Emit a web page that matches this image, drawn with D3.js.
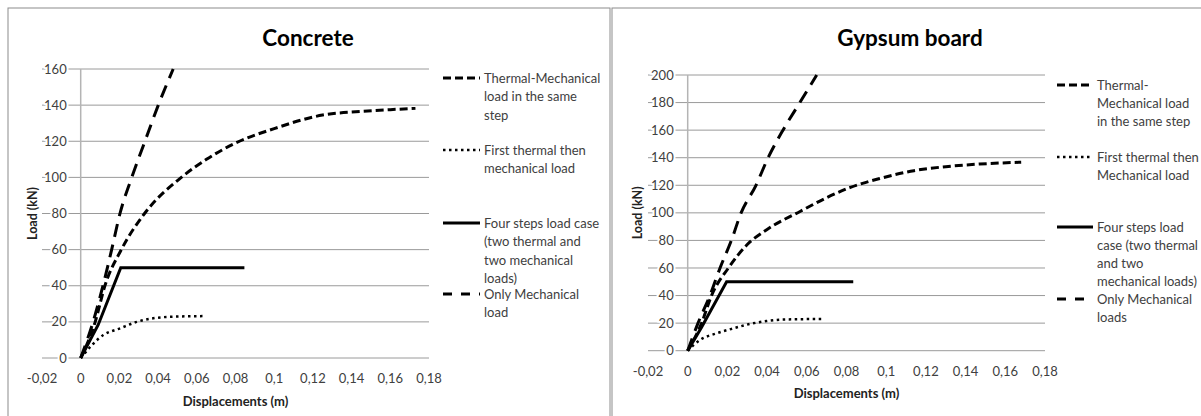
<!DOCTYPE html>
<html>
<head>
<meta charset="utf-8">
<script src="https://cdn.jsdelivr.net/npm/d3@7"></script>
<style>
  body { margin: 0; background: #fff; }
  svg { display: block; font-family: Lato, "Open Sans", sans-serif; }
</style>
</head>
<body>
<div id="chart"></div>
<script>
// tick values (labels use a decimal comma)
const xTicks = [-0.02, 0, 0.02, 0.04, 0.06, 0.08, 0.1, 0.12, 0.14, 0.16, 0.18];
const concreteYTicks = [0, 20, 40, 60, 80, 100, 120, 140, 160];
const gypsumYTicks = [0, 20, 40, 60, 80, 100, 120, 140, 160, 180, 200];

// Concrete: [displacement (m), load (kN)]
const concreteThermalMech = [[0, 0], [0.0075, 20], [0.0125, 40], [0.021, 60], [0.033, 80], [0.052, 100], [0.065, 110], [0.08, 119], [0.1, 127], [0.125, 134.5], [0.145, 136.5], [0.16, 137.5], [0.173, 138.2]];
const concreteFirstThermal = [[0, 0], [0.0117, 12.7], [0.0203, 16.4], [0.029, 20], [0.0375, 22], [0.046, 22.8], [0.0633, 23.2]];
const concreteFourSteps = [[0, 0], [0.009, 18.3], [0.0207, 50], [0.0846, 50]];
const concreteOnlyMech = [[0, 0], [0.0064, 20], [0.0115, 40], [0.016, 60], [0.0203, 80], [0.0264, 100], [0.0332, 120], [0.0401, 140], [0.0478, 160]];

// Gypsum board
const gypsumThermalMech = [[0, 0], [0.007, 20], [0.012, 40], [0.0205, 60], [0.03, 77], [0.04, 88], [0.0566, 101], [0.07, 111], [0.082, 118.5], [0.097, 125], [0.114, 130.6], [0.13, 133.5], [0.147, 135.4], [0.168, 136.7]];
const gypsumFirstThermal = [[0, 0], [0.0062, 7.8], [0.0146, 12.6], [0.023, 16.2], [0.0314, 19.4], [0.0398, 21.5], [0.048, 22.6], [0.068, 23]];
const gypsumFourSteps = [[0, 0], [0.007, 17], [0.0196, 50], [0.0834, 50]];
const gypsumOnlyMech = [[0, 0], [0.0052, 20], [0.0112, 40], [0.0163, 60], [0.022, 80], [0.0269, 100], [0.0344, 120], [0.0405, 140], [0.048, 160], [0.0565, 180], [0.065, 200]];

// legend texts, already wrapped as in the picture
const concreteLegend = [
  ["Thermal-Mechanical", "load in the same", "step"],
  ["First thermal then", "mechanical load"],
  ["Four steps  load case", "(two thermal and", "two mechanical", "loads)"],
  ["Only Mechanical", "load"]
];
const gypsumLegend = [
  ["Thermal-", "Mechanical load", "in the same step"],
  ["First thermal then", "Mechanical load"],
  ["Four steps  load", "case (two thermal", "and two", "mechanical loads)"],
  ["Only Mechanical", "loads"]
];

// line styles in series order
const styles = [
  { dash: "8,4", width: 3, smooth: true },
  { dash: "2.5,3.5", width: 2.5, smooth: true },
  { dash: null, width: 3, smooth: false },
  { dash: "13,8", width: 3, smooth: true }
];

const svg = d3.select("#chart")
  .append("svg")
  .attr("width", 1201)
  .attr("height", 416);

const fmt = v => String(v).replace(".", ",");

function drawChart(cfg) {
  const g = svg.append("g");

  g.append("rect")
    .attr("x", cfg.frame[0]).attr("y", 8)
    .attr("width", cfg.frame[1]).attr("height", 420)
    .attr("fill", "none")
    .attr("stroke", "#8c8c8c");

  const x = d3.scaleLinear().domain([-0.02, 0.18]).range(cfg.xRange);
  const y = d3.scaleLinear().domain([0, cfg.yMax]).range(cfg.yRange);

  // horizontal gridlines
  g.selectAll(".grid")
    .data(cfg.yTicks)
    .enter()
    .append("line")
    .attr("x1", cfg.xRange[0]).attr("x2", cfg.xRange[1])
    .attr("y1", d => y(d)).attr("y2", d => y(d))
    .attr("stroke", "#9a9a9a")
    .attr("stroke-width", 1);

  // vertical axis at x = 0
  g.append("line")
    .attr("x1", x(0)).attr("x2", x(0))
    .attr("y1", y(0)).attr("y2", y(cfg.yMax))
    .attr("stroke", "#b4b4b4")
    .attr("stroke-width", 1.5);

  // y tick labels with white halo over gridlines
  g.selectAll(".ylab")
    .data(cfg.yTicks)
    .enter()
    .append("text")
    .attr("x", x(0) - 14)
    .attr("y", d => y(d))
    .attr("dy", "0.35em")
    .attr("text-anchor", "end")
    .attr("font-size", 13)
    .attr("fill", "#404040")
    .attr("stroke", "#fff")
    .attr("stroke-width", 4)
    .attr("paint-order", "stroke")
    .text(d => d);

  g.selectAll(".xlab")
    .data(xTicks)
    .enter()
    .append("text")
    .attr("x", d => x(d))
    .attr("y", cfg.xTickY)
    .attr("dy", "0.35em")
    .attr("text-anchor", "middle")
    .attr("font-size", 13)
    .attr("fill", "#404040")
    .text(fmt);

  g.append("text")
    .attr("x", (cfg.xRange[0] + cfg.xRange[1]) / 2)
    .attr("y", cfg.xTitleY)
    .attr("dy", "0.35em")
    .attr("text-anchor", "middle")
    .attr("font-size", 13)
    .attr("font-weight", "bold")
    .attr("fill", "#222")
    .text("Displacements (m)");

  g.append("text")
    .attr("transform", `translate(${cfg.yTitleX},${(cfg.yRange[0] + cfg.yRange[1]) / 2}) rotate(-90)`)
    .attr("dy", "0.35em")
    .attr("text-anchor", "middle")
    .attr("font-size", 12.5)
    .attr("font-weight", "bold")
    .attr("fill", "#222")
    .text("Load (kN)");

  g.append("text")
    .attr("x", cfg.titleX)
    .attr("y", 38)
    .attr("dy", "0.35em")
    .attr("text-anchor", "middle")
    .attr("font-size", 22.5)
    .attr("font-weight", "bold")
    .attr("fill", "#000")
    .text(cfg.title);

  // series
  cfg.series.forEach((s, i) => {
    const st = styles[i];
    const line = d3.line()
      .curve(st.smooth ? d3.curveMonotoneX : d3.curveLinear)
      .x(d => x(d[0]))
      .y(d => y(d[1]));
    g.append("path")
      .datum(s)
      .attr("d", line)
      .attr("fill", "none")
      .attr("stroke", "#000")
      .attr("stroke-width", st.width)
      .attr("stroke-dasharray", st.dash);
  });

  // legend
  cfg.legend.forEach((lines, i) => {
    const st = styles[i];
    const ly = cfg.legendY[i];
    g.append("line")
      .attr("x1", cfg.legendX[0]).attr("x2", cfg.legendX[1])
      .attr("y1", ly).attr("y2", ly)
      .attr("stroke", "#000")
      .attr("stroke-width", st.width)
      .attr("stroke-dasharray", i === 3 ? "9,9" : st.dash);
    g.selectAll(null)
      .data(lines)
      .enter()
      .append("text")
      .attr("x", cfg.legendX[2])
      .attr("y", (d, j) => ly + j * cfg.lineH)
      .attr("dy", "0.35em")
      .attr("font-size", 13)
      .attr("fill", "#404040")
      .text(d => d);
  });
}

drawChart({
  title: "Concrete",
  frame: [8, 602],
  xRange: [42, 429],
  yRange: [358, 69],
  yMax: 160,
  yTicks: concreteYTicks,
  xTickY: 378,
  xTitleY: 401,
  yTitleX: 33,
  titleX: 308,
  series: [concreteThermalMech, concreteFirstThermal, concreteFourSteps, concreteOnlyMech],
  legend: concreteLegend,
  legendX: [443, 480, 484],
  legendY: [78, 150, 223, 294],
  lineH: 18.5
});

drawChart({
  title: "Gypsum board",
  frame: [612, 600],
  xRange: [648, 1045],
  yRange: [350.7, 75],
  yMax: 200,
  yTicks: gypsumYTicks,
  xTickY: 371,
  xTitleY: 393,
  yTitleX: 638,
  titleX: 910,
  series: [gypsumThermalMech, gypsumFirstThermal, gypsumFourSteps, gypsumOnlyMech],
  legend: gypsumLegend,
  legendX: [1057, 1093, 1097],
  legendY: [85, 157, 227, 299],
  lineH: 18.3
});
</script>
</body>
</html>
